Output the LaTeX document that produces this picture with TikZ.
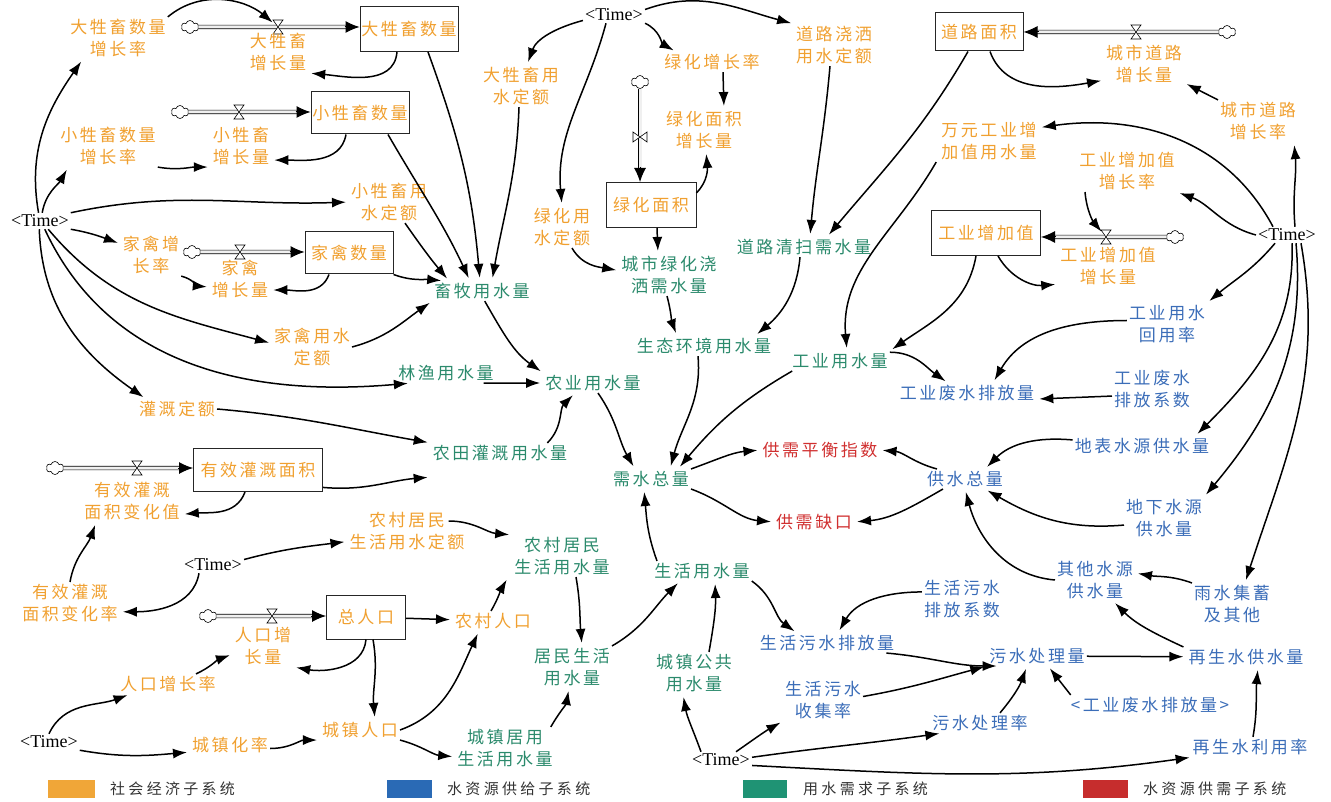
\documentclass[tikz,border=0pt]{standalone}
\usepackage{fontspec}
\usetikzlibrary{arrows.meta,shapes.symbols}
\newfontfamily\cjk{Noto Sans CJK SC}[LetterSpace=15]
\newfontfamily\cjklg{Noto Sans CJK SC}[LetterSpace=22]
\newfontfamily\tmfont{Liberation Serif}
\definecolor{socC}{HTML}{F0A030}
\definecolor{demC}{HTML}{2B8A6C}
\definecolor{supC}{HTML}{3B6DB8}
\definecolor{balC}{HTML}{D03030}
\definecolor{legO}{HTML}{F0A638}
\definecolor{legB}{HTML}{2A6AB5}
\definecolor{legG}{HTML}{1F9374}
\definecolor{legR}{HTML}{C62D2D}
\newcommand\valveH[1]{\filldraw[fill=white,line width=0.6pt] ([shift={(-5pt,-7pt)}]#1) -- ([shift={(5pt,-7pt)}]#1) -- ([shift={(-5pt,7pt)}]#1) -- ([shift={(5pt,7pt)}]#1) -- cycle;}
\newcommand\valveV[1]{\filldraw[fill=white,line width=0.6pt] ([shift={(-7pt,-5pt)}]#1) -- ([shift={(-7pt,5pt)}]#1) -- ([shift={(7pt,-5pt)}]#1) -- ([shift={(7pt,5pt)}]#1) -- cycle;}
\begin{document}
\begin{tikzpicture}[x=1pt,y=-1pt,
  lbl/.style={font=\cjk\fontsize{17}{22}\selectfont, align=center, inner sep=2pt},
  soc/.style={lbl, text=socC},
  dem/.style={lbl, text=demC},
  supc/.style={lbl, text=supC},
  bal/.style={lbl, text=balC},
  tm/.style={font=\tmfont\fontsize{18}{20}\selectfont, inner sep=2pt},
  stock/.style={lbl, text=socC, draw=black!85, line width=1pt, inner sep=0pt},
  cloudy/.style={cloud, cloud puffs=6, aspect=1.3, draw, fill=white, line width=0.6pt, minimum width=17pt, minimum height=13pt, inner sep=0pt},
  pipe/.style={draw=black, line width=0.7pt, double=gray!12, double distance=3pt, shorten >=12pt},
  pipetip/.style={-{Latex[length=14pt,width=12pt]}, line width=1pt},
  arr/.style={-{Latex[length=14pt,width=10pt]}, line width=1.5pt, shorten >=3pt},
  legtext/.style={font=\cjklg\fontsize{15}{18}\selectfont, text=black!80, anchor=west, inner sep=0pt}
]
\useasboundingbox (0,0) rectangle (1331,802);

% ---------- Time nodes
\node[tm] (T1) at (40,221) {<Time>};
\node[tm] (T2) at (213,565) {<Time>};
\node[tm] (T3) at (49,742) {<Time>};
\node[tm] (T4) at (614,15) {<Time>};
\node[tm] (T5) at (1287,235) {<Time>};
\node[tm] (T6) at (721,760) {<Time>};

% ---------- stocks
\node[stock, minimum width=98pt, minimum height=45pt] (box1) at (409,29) {大牲畜数量};
\node[stock, minimum width=98pt, minimum height=42pt] (box2) at (360,113) {小牲畜数量};
\node[stock, minimum width=88pt, minimum height=42pt] (box3) at (349,253) {家禽数量};
\node[stock, minimum width=129pt, minimum height=43pt] (box4) at (258,470) {有效灌溉面积};
\node[stock, minimum width=79pt, minimum height=44pt] (box5) at (366,617) {总人口};
\node[stock, minimum width=90pt, minimum height=45pt] (box6) at (651,205) {绿化面积};
\node[stock, minimum width=88pt, minimum height=38pt] (box7) at (979,32) {道路面积};
\node[stock, minimum width=109pt, minimum height=45pt] (box8) at (986,233) {工业增加值};

% ---------- clouds
\node[cloudy] (cl1) at (190,27) {};
\node[cloudy] (cl2) at (180,112) {};
\node[cloudy] (cl3) at (192,252) {};
\node[cloudy] (cl4) at (55,468) {};
\node[cloudy] (cl5) at (208,616) {};
\node[cloudy] (cl6) at (640,82) {};
\node[cloudy] (cl7) at (1227,32) {};
\node[cloudy] (cl8) at (1175,237) {};

\coordinate (v1) at (278,27);
\coordinate (v2) at (239,112);
\coordinate (v3) at (240,252);
\coordinate (v4) at (137,468);
\coordinate (v5) at (272,616);
\coordinate (v6) at (640,137);
\coordinate (v7) at (1136,32);
\coordinate (v8) at (1106,237);

% pipe ends at the stocks
\coordinate (p1) at (cl1 -| box1.west);
\coordinate (p2) at (cl2 -| box2.west);
\coordinate (p3) at (cl3 -| box3.west);
\coordinate (p4) at (cl4 -| box4.west);
\coordinate (p5) at (cl5 -| box5.west);
\coordinate (p6) at (cl6 |- box6.north);
\coordinate (p7) at (cl7 -| box7.east);
\coordinate (p8) at (cl8 -| box8.east);

% ---------- pipes
\draw[pipe] (cl1) -- (p1); \draw[pipetip] ([xshift=-15pt]p1) -- (p1);
\draw[pipe] (cl2) -- (p2); \draw[pipetip] ([xshift=-15pt]p2) -- (p2);
\draw[pipe] (cl3) -- (p3); \draw[pipetip] ([xshift=-15pt]p3) -- (p3);
\draw[pipe] (cl4) -- (p4); \draw[pipetip] ([xshift=-15pt]p4) -- (p4);
\draw[pipe] (cl5) -- (p5); \draw[pipetip] ([xshift=-15pt]p5) -- (p5);
\draw[pipe] (cl6) -- (p6); \draw[pipetip] ([yshift=15pt]p6) -- (p6);
\draw[pipe] (cl7) -- (p7); \draw[pipetip] ([xshift=15pt]p7) -- (p7);
\draw[pipe] (cl8) -- (p8); \draw[pipetip] ([xshift=15pt]p8) -- (p8);
\valveH{v1} \valveH{v2} \valveH{v3} \valveH{v4}
\valveH{v5} \valveV{v6} \valveH{v7} \valveH{v8}

% ---------- socio-economic (orange)
\node[soc] (n1) at (118,38) {大牲畜数量\\增长率};
\node[soc] (n2) at (278,52) {大牲畜\\增长量};
\node[soc] (n4) at (108,146) {小牲畜数量\\增长率};
\node[soc] (n3) at (241,146) {小牲畜\\增长量};
\node[soc] (n5) at (389,202) {小牲畜用\\水定额};
\node[soc] (n6) at (151,255) {家禽增\\长率};
\node[soc] (n7) at (240,279) {家禽\\增长量};
\node[soc] (n9) at (312,347) {家禽用水\\定额};
\node[soc] (n12) at (177,409) {灌溉定额};
\node[soc] (n14) at (132,501) {有效灌溉\\面积变化值};
\node[soc] (n15) at (70,603) {有效灌溉\\面积变化率};
\node[soc] (n16) at (407,531) {农村居民\\生活用水定额};
\node[soc] (n18) at (263,646) {人口增\\长量};
\node[soc] (n19) at (493,621) {农村人口};
\node[soc] (n20) at (168,684) {人口增长率};
\node[soc] (n21) at (230,745) {城镇化率};
\node[soc] (n22) at (360,730) {城镇人口};
\node[soc] (n30) at (562,227) {绿化用\\水定额};
\node[soc] (n31) at (704,130) {绿化面积\\增长量};
\node[soc] (n32) at (712,62) {绿化增长率};
\node[soc] (n33) at (521,86) {大牲畜用\\水定额};
\node[soc] (n34) at (834,45) {道路浇洒\\用水定额};
\node[soc] (n36) at (1144,64) {城市道路\\增长量};
\node[soc] (n37) at (1258,121) {城市道路\\增长率};
\node[soc] (n38) at (989,141) {万元工业增\\加值用水量};
\node[soc] (n39) at (1127,171) {工业增加值\\增长率};
\node[soc] (n40) at (1108,266) {工业增加值\\增长量};

% ---------- demand (teal)
\node[dem] (n8) at (482,291) {畜牧用水量};
\node[dem] (n10) at (446,373) {林渔用水量};
\node[dem] (n11) at (593,383) {农业用水量};
\node[dem] (n13) at (500,453) {农田灌溉用水量};
\node[dem] (n17) at (562,556) {农村居民\\生活用水量};
\node[dem] (n23) at (572,667) {居民生活\\用水量};
\node[dem] (n24) at (505,748) {城镇居用\\生活用水量};
\node[dem] (n25) at (694,673) {城镇公共\\用水量};
\node[dem] (n26) at (702,571) {生活用水量};
\node[dem] (n27) at (651,479) {需水总量};
\node[dem] (n28) at (704,346) {生态环境用水量};
\node[dem] (n29) at (669,275) {城市绿化浇\\洒需水量};
\node[dem] (n35) at (804,247) {道路清扫需水量};
\node[dem] (n41) at (840,361) {工业用水量};

% ---------- supply (blue)
\node[supc] (n42) at (1167,324) {工业用水\\回用率};
\node[supc] (n43) at (967,393) {工业废水排放量};
\node[supc] (n44) at (1152,389) {工业废水\\排放系数};
\node[supc] (n45) at (1142,446) {地表水源供水量};
\node[supc] (n46) at (965,479) {供水总量};
\node[supc] (n47) at (1164,518) {地下水源\\供水量};
\node[supc] (n50) at (1095,580) {其他水源\\供水量};
\node[supc] (n51) at (1232,604) {雨水集蓄\\及其他};
\node[supc] (n52) at (962,599) {生活污水\\排放系数};
\node[supc] (n53) at (827,643) {生活污水排放量};
\node[supc] (n54) at (1037,656) {污水处理量};
\node[supc] (n55) at (1246,657) {再生水供水量};
\node[supc] (n56) at (823,700) {生活污水\\收集率};
\node[supc] (n57) at (1150,705) {<工业废水排放量>};
\node[supc] (n58) at (980,723) {污水处理率};
\node[supc] (n59) at (1250,747) {再生水利用率};

% ---------- balance (red)
\node[bal] (n48) at (820,450) {供需平衡指数};
\node[bal] (n49) at (814,522) {供需缺口};

% ---------- connectors: left Time
\draw[arr] (T1.100) to[out=100,in=235] (n1.211);
\draw[arr] (T1.75) to[out=80,in=240] (n4.208);
\draw[arr] (T1.15) to[out=12,in=182] (n5.west);
\draw[arr] (T1.-15) to[out=-10,in=160] (n6.160);
\draw[arr] (T1.-95) to[out=-88,in=145] (n12.162);
\draw[arr] (T1.-45) to[out=-50,in=165] (n9.175);
\draw[arr] (T1.-60) to[out=-65,in=185] (n10.196);

% livestock
\draw[arr, shorten >=7pt] (n1.north east) to[out=40,in=140] (v1);
\draw[arr] ([xshift=-12pt]box1.south) to[out=-95,in=-5] (n2.south east);
\draw[arr] ([xshift=-14pt]box2.south) to[out=-100,in=0] (n3.-25);
\draw[arr] (n4.south east) to[out=-10,in=180] (n3.south west);
\draw[arr] (n6.south east) to[out=-15,in=175] (n7.195);
\draw[arr] ([xshift=-20pt]box3.south) to[out=-110,in=0] (n7.-20);
\draw[arr] (box3.south east) to[out=-20,in=175] (n8.165);
\draw[arr] ([xshift=19pt]box1.south) to[out=-70,in=95] ([xshift=-2pt]n8.north);
\draw[arr] ([xshift=28pt]box2.south) to[out=-60,in=115] ([xshift=-12pt]n8.north);
\draw[arr] ([xshift=-2pt]n33.south) to[out=-92,in=80] ([xshift=10pt]n8.north);
\draw[arr] ([xshift=16pt]n5.south) to[out=-55,in=130] ([xshift=-33pt]n8.north);
\draw[arr] (n9.east) to[out=15,in=215] (n8.south west);

% agriculture
\draw[arr] (n8.-75) to[out=-60,in=145] (n11.north west);
\draw[arr] (n10.-15) -- (n11.west);
\draw[arr] ([xshift=-22pt]n13.north east) to[out=45,in=225] ([xshift=-18pt]n11.south);
\draw[arr] (n12.east) to[out=-5,in=170] (n13.north west);
\draw[arr] (box4.-15) to[out=-5,in=185] ([yshift=-14pt]n13.south west);
\draw[arr] ([xshift=-13pt]box4.south) to[out=-110,in=5] (n14.-15);
\draw[arr] (n15.north) to[out=80,in=250] ([xshift=14pt]n14.south west);
\draw[arr] ([xshift=-14pt]T2.south) to[out=-100,in=0] (n15.-10);
\draw[arr] (T2.10) to[out=15,in=187] (n16.190);
\draw[arr] ([xshift=-18pt,yshift=10pt]n16.east) to[out=0,in=175] (n17.north west);

% population
\draw[arr] (box5.south) to[out=-95,in=-10] (n18.south east);
\draw[arr] (box5) -- (n19);
\draw[arr] ([xshift=7pt]box5.south) to[out=-80,in=95] ([xshift=15pt]n22.north);
\draw[arr] ([xshift=28pt]n20.north) to[out=25,in=200] (n18.195);
\draw[arr] (T3.north) to[out=65,in=200] (n20.195);
\draw[arr] (T3.-15) to[out=-10,in=185] (n21.190);
\draw[arr] (n21.-5) to[out=0,in=180] (n22.south west);
\draw[arr] (n22.east) to[out=20,in=245] ([xshift=-14pt]n19.south);
\draw[arr] (n22.south east) to[out=-15,in=175] (n24.-170);
\draw[arr] ([xshift=-2pt]n19.north) to[out=60,in=240] ([xshift=-4pt]n17.south west);
\draw[arr] ([xshift=14pt]n17.south) to[out=-80,in=95] ([xshift=10pt]n23.north);
\draw[arr] ([xshift=-4pt]n24.north east) to[out=60,in=260] ([xshift=-3pt]n23.south);
\draw[arr] (n23.north east) to[out=30,in=225] ([xshift=-22pt]n26.south);
\draw[arr] ([xshift=15pt]n25.north) to[out=80,in=-88] ([xshift=13pt]n26.south);
\draw[arr] ([xshift=-20pt]T6.north) to[out=110,in=-80] ([xshift=-11pt]n25.south);
\draw[arr] ([xshift=-45pt]n26.north) to[out=110,in=-85] ([xshift=-7pt]n27.south);

% sewage
\draw[arr] ([xshift=-16pt]T6.north east) to[out=35,in=210] (n56.south west);
\draw[arr] (T6.5) to[out=8,in=188] (n58.-165);
\draw[arr] (T6.-10) to[out=-3,in=188] (n59.-170);
\draw[arr] (n26.south east) to[out=-35,in=145] ([xshift=-30pt]n53.north);
\draw[arr] (n52.170) to[out=180,in=60] ([xshift=11pt]n53.north);
\draw[arr] ([xshift=-10pt]n53.south east) to[out=-5,in=180] (n54.-165);
\draw[arr] (n56.5) to[out=10,in=195] (n54.south west);
\draw[arr] ([xshift=20pt]n58.north) to[out=50,in=250] ([xshift=-10pt]n54.south);
\draw[arr] ([xshift=2pt]n57.north west) -- ([xshift=11pt]n54.south);
\draw[arr] (n54) -- (n55);
\draw[arr] ([xshift=3pt]n59.north) to[out=80,in=-95] ([xshift=12pt]n55.south);
\draw[arr] ([xshift=-3pt]n55.north west) to[out=155,in=-45] ([xshift=18pt]n50.south);
\draw[arr] (n51.north west) to[out=160,in=-10] (n50.10);

% right Time
\draw[arr] ([xshift=14pt]T5.south) to[out=-80,in=72] ([xshift=13pt]n51.north);
\draw[arr] ([xshift=9pt]T5.south) to[out=-85,in=50] (n47.north east);
\draw[arr] ([xshift=5pt]T5.south) to[out=-88,in=45] ([xshift=-16pt]n45.north east);
\draw[arr] ([xshift=-12pt]T5.south) to[out=-130,in=40] (n42.north east);
\draw[arr] ([xshift=8pt]T5.north) to[out=95,in=-85] ([xshift=-4pt]n37.south east);
\draw[arr] ([xshift=-14pt]T5.north) to[out=118,in=8] (n38.15);
\draw[arr] (T5.west) to[out=165,in=-20] (n39.south east);
\draw[arr, shorten >=7pt] ([xshift=-42pt]n39.south) to[out=-85,in=130] (v8);
\draw[arr] (n37.north west) -- (n36.-25);
\draw[arr] ([xshift=11pt]box7.south) to[out=-70,in=190] (n36.-158);
\draw[arr] ([xshift=-11pt]box7.south) to[out=-120,in=50] ([xshift=23pt]n35.north);
\draw[arr] ([xshift=-4pt]n34.south) to[out=-95,in=85] ([xshift=6pt]n35.north);

% top Time / greening
\draw[arr] (T4.10) to[out=20,in=165] (n34.north west);
\draw[arr] (T4.south east) to[out=-25,in=150] ([xshift=14pt]n32.north west);
\draw[arr] (T4.-170) to[out=195,in=70] ([xshift=6pt]n33.north);
\draw[arr] ([xshift=-8pt]T4.south) to[out=-105,in=95] (n30.north);
\draw[arr] ([xshift=11pt]n32.south) -- ([xshift=20pt]n31.north);
\draw[arr] (box6.15) to[out=45,in=-85] ([xshift=2pt]n31.south);
\draw[arr] ([xshift=6pt]box6.south) -- ([xshift=-11pt]n29.north);
\draw[arr] ([xshift=10pt]n30.south) to[out=-60,in=170] (n29.175);
\draw[arr] ([xshift=-2pt]n29.south) to[out=-75,in=110] ([xshift=-27pt]n28.north);
\draw[arr] ([xshift=-4pt]n35.south) to[out=-95,in=40] ([xshift=51pt]n28.north);

% industry
\draw[arr] ([xshift=-3pt]n38.south west) to[out=-120,in=95] ([xshift=7pt]n41.north);
\draw[arr] ([xshift=-10pt]box8.south) to[out=-100,in=35] (n41.north east);
\draw[arr] ([xshift=12pt]box8.south) to[out=-60,in=185] (n40.-160);
\draw[arr] (n41.10) to[out=0,in=145] ([xshift=-19pt]n43.north);
\draw[arr] (n42.175) to[out=180,in=60] ([xshift=26pt]n43.north);
\draw[arr] (n44.-170) -- (n43.-5);

% supply totals
\draw[arr] (n45.175) to[out=175,in=45] ([xshift=20pt]n46.north);
\draw[arr] (n47.-170) to[out=185,in=-30] ([xshift=20pt]n46.south);
\draw[arr] (n50.west) to[out=175,in=-75] (n46.south);
\draw[arr] ([xshift=12pt]n46.north west) to[out=165,in=-5] (n48.east);
\draw[arr] ([xshift=18pt]n46.south west) to[out=-150,in=5] (n49.east);
\draw[arr] (n27.north east) to[out=20,in=185] (n48.west);
\draw[arr] (n27.south east) to[out=-20,in=175] (n49.west);

% demand totals
\draw[arr] ([xshift=5pt]n11.south) to[out=-55,in=120] ([xshift=-16pt]n27.north);
\draw[arr] ([xshift=-6pt]n28.south) to[out=-85,in=75] ([xshift=19pt]n27.north);
\draw[arr] ([xshift=2pt]n41.south west) to[out=-150,in=50] ([xshift=27pt]n27.north);

% ---------- legend
\fill[legO] (48,780) rectangle (95,798);
\fill[legB] (387,780) rectangle (432,798);
\fill[legG] (743,780) rectangle (787,798);
\fill[legR] (1083,780) rectangle (1128,798);
\node[legtext] (lg1) at (110,789) {社会经济子系统};
\node[legtext] (lg2) at (447,789) {水资源供给子系统};
\node[legtext] (lg3) at (803,789) {用水需求子系统};
\node[legtext] (lg4) at (1143,789) {水资源供需子系统};
\end{tikzpicture}
\end{document}
